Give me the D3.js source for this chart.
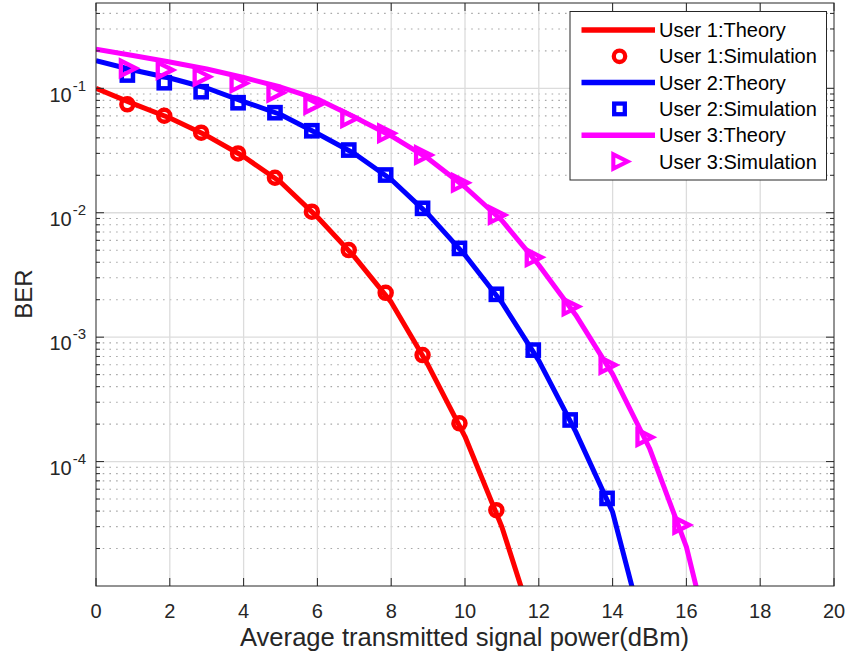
<!DOCTYPE html>
<html>
<head>
<meta charset="utf-8">
<script src="https://cdn.jsdelivr.net/npm/d3@7"></script>
<style>
  html, body { margin: 0; padding: 0; background: #fff; }
  svg { display: block; font-family: "Liberation Sans", Arial, Helvetica, sans-serif; }
</style>
</head>
<body>
<svg id="chart" width="847" height="658"></svg>
<script>
// ---- Data ----
const xTicks = [0, 2, 4, 6, 8, 10, 12, 14, 16, 18, 20];
const yTickExps = [-1, -2, -3, -4];

// Theory curves (sampled at integer powers, dBm)
const theoryX1 = [0, 1, 2, 3, 4, 5, 6, 7, 8, 9, 10, 11, 12];
const theory1 = [0.1, 0.0754, 0.0577, 0.0417, 0.0283, 0.01765, 0.00923, 0.00444, 0.00191, 0.000597, 0.000159, 2.98e-5, 3.54e-6];
const theoryX2 = [0, 1, 2, 3, 4, 5, 6, 7, 8, 9, 10, 11, 12, 13, 14, 15];
const theory2 = [0.1667, 0.1404, 0.1210, 0.1006, 0.0783, 0.0616, 0.0433, 0.0299, 0.0185, 0.00976, 0.00457, 0.00190, 0.000648, 0.000174, 3.93e-5, 2.84e-6];
const theoryX3 = [0, 1, 2, 3, 4, 5, 6, 7, 8, 9, 10, 11, 12, 13, 14, 15, 16, 17];
const theory3 = [0.2058, 0.1835, 0.1627, 0.1429, 0.1221, 0.1024, 0.0820, 0.0588, 0.0414, 0.0273, 0.0161, 0.00866, 0.0038, 0.00151, 0.000505, 0.000128, 2.06e-5, 1.28e-6];

// Simulation points
const simX1 = [0.85, 1.85, 2.85, 3.85, 4.85, 5.85, 6.85, 7.85, 8.85, 9.85, 10.85];
const sim1 = [0.0744, 0.0602, 0.0440, 0.0300, 0.0191, 0.0102, 0.00501, 0.00227, 0.000718, 0.000203, 4.07e-5];
const simX2 = [0.85, 1.85, 2.85, 3.85, 4.85, 5.85, 6.85, 7.85, 8.85, 9.85, 10.85, 11.85, 12.85, 13.85];
const sim2 = [0.1279, 0.1109, 0.0939, 0.0766, 0.0637, 0.0456, 0.0319, 0.0201, 0.01085, 0.00517, 0.00221, 0.000787, 0.000216, 5.06e-5];
const simX3 = [0.85, 1.85, 2.85, 3.85, 4.85, 5.85, 6.85, 7.85, 8.85, 9.85, 10.85, 11.85, 12.85, 13.85, 14.85, 15.85];
const sim3 = [0.1448, 0.1404, 0.1240, 0.1097, 0.0922, 0.0734, 0.0574, 0.0435, 0.0291, 0.0174, 0.00958, 0.00438, 0.00176, 0.000597, 0.000157, 3.09e-5];

const legendLabels = ["User 1:Theory", "User 1:Simulation", "User 2:Theory", "User 2:Simulation", "User 3:Theory", "User 3:Simulation"];
const xLabel = "Average transmitted signal power(dBm)";
const yLabel = "BER";

// ---- Layout ----
const L = 96, R = 834, T = 3, B = 586;
const axisColor = "#262626";
const cRed = "#ff0000", cBlue = "#0000ff", cMag = "#ff00ff";

const svg = d3.select("#chart");
const x = d3.scaleLinear().domain([0, 20]).range([L, R]);
const y = d3.scaleLog().domain([1e-5, 0.485]).range([B, T]);

// minor values
const minorVals = [];
for (let e = -5; e <= -1; e++) for (let m = 2; m <= 9; m++) {
  const v = m * Math.pow(10, e);
  if (v > 1e-5 && v < 0.485) minorVals.push(v);
}
const majorVals = yTickExps.map(e => Math.pow(10, e));

// grid
const grid = svg.append("g");
grid.selectAll(".mg").data(minorVals).enter().append("line")
  .attr("x1", L).attr("x2", R).attr("y1", d => y(d)).attr("y2", d => y(d))
  .attr("stroke", "#a8a8a8").attr("stroke-width", 1.1).attr("stroke-dasharray", "1.6,5.1");
grid.selectAll(".gx").data(xTicks.slice(1, -1)).enter().append("line")
  .attr("x1", d => x(d)).attr("x2", d => x(d)).attr("y1", T).attr("y2", B)
  .attr("stroke", "#dcdcdc").attr("stroke-width", 1.3);
grid.selectAll(".gy").data(majorVals).enter().append("line")
  .attr("x1", L).attr("x2", R).attr("y1", d => y(d)).attr("y2", d => y(d))
  .attr("stroke", "#dcdcdc").attr("stroke-width", 1.3);

// clip
svg.append("clipPath").attr("id", "clip").append("rect")
  .attr("x", L).attr("y", T).attr("width", R - L).attr("height", B - T);

const plot = svg.append("g").attr("clip-path", "url(#clip)");
const line = d3.line().x(d => x(d[0])).y(d => y(d[1]));

const series = [
  { tx: theoryX1, ty: theory1, sx: simX1, sy: sim1, c: cRed, m: "circle" },
  { tx: theoryX2, ty: theory2, sx: simX2, sy: sim2, c: cBlue, m: "square" },
  { tx: theoryX3, ty: theory3, sx: simX3, sy: sim3, c: cMag, m: "tri" }
];

function drawMarker(g, type, cx, cy, color, scale) {
  const s = scale || 1;
  if (type === "circle") {
    g.append("circle").attr("cx", cx).attr("cy", cy).attr("r", 6 * s)
      .attr("fill", "none").attr("stroke", color).attr("stroke-width", 4.5 * s);
  } else if (type === "square") {
    const h = 5.6 * s;
    g.append("rect").attr("x", cx - h).attr("y", cy - h).attr("width", 2 * h).attr("height", 2 * h)
      .attr("fill", "none").attr("stroke", color).attr("stroke-width", 4.5 * s);
  } else {
    const pts = [[cx - 6.5 * s, cy - 7.5 * s], [cx - 6.5 * s, cy + 7.5 * s], [cx + 8.5 * s, cy]];
    g.append("polygon").attr("points", pts.map(p => p.join(",")).join(" "))
      .attr("fill", "none").attr("stroke", color).attr("stroke-width", 4.3 * s)
      .attr("stroke-linejoin", "miter");
  }
}

series.forEach(s => {
  plot.append("path").datum(s.tx.map((v, i) => [v, s.ty[i]]))
    .attr("d", line).attr("fill", "none").attr("stroke", s.c).attr("stroke-width", 5)
    .attr("stroke-linejoin", "round");
});
series.forEach(s => {
  const g = plot.append("g");
  s.sx.forEach((v, i) => drawMarker(g, s.m, x(v), y(s.sy[i]), s.c));
});

// axes box and ticks
const ax = svg.append("g").attr("stroke", axisColor).attr("stroke-width", 1).attr("fill", "none");
ax.append("rect").attr("x", L).attr("y", T).attr("width", R - L).attr("height", B - T);
ax.selectAll(".tb").data(xTicks).enter().append("line")
  .attr("x1", d => x(d)).attr("x2", d => x(d)).attr("y1", B).attr("y2", B - 8);
ax.selectAll(".tt").data(xTicks).enter().append("line")
  .attr("x1", d => x(d)).attr("x2", d => x(d)).attr("y1", T).attr("y2", T + 8);
ax.selectAll(".tl").data(majorVals).enter().append("line")
  .attr("x1", L).attr("x2", L + 8).attr("y1", d => y(d)).attr("y2", d => y(d));
ax.selectAll(".tr").data(majorVals).enter().append("line")
  .attr("x1", R).attr("x2", R - 8).attr("y1", d => y(d)).attr("y2", d => y(d));
ax.selectAll(".ml").data(minorVals).enter().append("line")
  .attr("x1", L).attr("x2", L + 4).attr("y1", d => y(d)).attr("y2", d => y(d));
ax.selectAll(".mr").data(minorVals).enter().append("line")
  .attr("x1", R).attr("x2", R - 4).attr("y1", d => y(d)).attr("y2", d => y(d));

// tick labels
svg.selectAll(".xl").data(xTicks).enter().append("text")
  .attr("x", d => x(d)).attr("y", B + 31.5).attr("text-anchor", "middle")
  .attr("font-size", 20).attr("fill", axisColor).text(d => d);

const yl = svg.selectAll(".yl").data(yTickExps).enter().append("text")
  .attr("x", 86).attr("y", d => y(Math.pow(10, d)) + 13.2).attr("text-anchor", "end")
  .attr("font-size", 20).attr("fill", axisColor);
yl.append("tspan").text("10");
yl.append("tspan").attr("dy", -11).attr("dx", 1).attr("font-size", 15).text(d => String(d));

// axis labels
svg.append("text").attr("x", (L + R) / 2 - 0.5).attr("y", 646).attr("text-anchor", "middle")
  .attr("font-size", 25.6).attr("fill", axisColor).text(xLabel);
svg.append("text").attr("transform", "translate(31.5," + 294 + ") rotate(-90)")
  .attr("text-anchor", "middle").attr("font-size", 24).attr("fill", axisColor).text(yLabel);

// legend
const lg = svg.append("g");
lg.append("rect").attr("x", 570).attr("y", 11.5).attr("width", 256.5).attr("height", 168.5)
  .attr("fill", "#fff").attr("stroke", axisColor).attr("stroke-width", 1);
const legendItems = [
  { t: "line", c: cRed }, { t: "circle", c: cRed },
  { t: "line", c: cBlue }, { t: "square", c: cBlue },
  { t: "line", c: cMag }, { t: "tri", c: cMag }
];
legendItems.forEach((it, i) => {
  const cy = 30 + i * 26.3;
  if (it.t === "line") {
    lg.append("line").attr("x1", 581.5).attr("x2", 655).attr("y1", cy).attr("y2", cy)
      .attr("stroke", it.c).attr("stroke-width", 5.5);
  } else {
    drawMarker(lg, it.t, 619.5, cy, it.c, 0.95);
  }
  lg.append("text").attr("x", 659).attr("y", cy + 7).attr("font-size", 20).attr("fill", "#000")
    .text(legendLabels[i]);
});
</script>
</body>
</html>
